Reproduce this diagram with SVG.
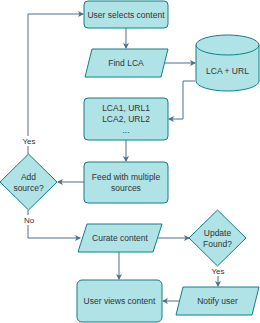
<svg xmlns="http://www.w3.org/2000/svg" width="260" height="323" viewBox="0 0 260 323">
<defs>
<style>
.s{fill:#b0e3e6;stroke:#0e8088;stroke-width:1}
.t{font-family:"Liberation Sans",Arial,sans-serif;font-size:8.5px;fill:#333;text-anchor:middle;dominant-baseline:central}
.l{font-family:"Liberation Sans",Arial,sans-serif;font-size:8px;fill:#333;text-anchor:middle;dominant-baseline:central}
.c{fill:none;stroke:#4f6f88;stroke-width:1}
</style>
<marker id="a" markerWidth="6" markerHeight="6" refX="5" refY="3" orient="auto" markerUnits="userSpaceOnUse">
<path d="M0,0 L6,3 L0,6 L1.5,3 Z" fill="#4f6f88"/>
</marker>
</defs>
<rect width="260" height="323" fill="#fff"/>
<g id="connectors">
<path class="c" d="M126,28 V48" marker-end="url(#a)"/>
<path class="c" d="M165,63 H195" marker-end="url(#a)"/>
<path class="c" d="M195,81 H183 V119 H169" marker-end="url(#a)"/>
<path class="c" d="M126,140 V161" marker-end="url(#a)"/>
<path class="c" d="M84,182 H58" marker-end="url(#a)"/>
<path class="c" d="M28,154 V14 H83" marker-end="url(#a)"/>
<path class="c" d="M28,210 V238 H80" marker-end="url(#a)"/>
<path class="c" d="M158,238 H189" marker-end="url(#a)"/>
<path class="c" d="M218,266 V286" marker-end="url(#a)"/>
<path class="c" d="M180,301 H163" marker-end="url(#a)"/>
<path class="c" d="M119,252 V279" marker-end="url(#a)"/>
<rect x="20" y="136" width="18" height="10" fill="#fff"/>
<text class="l" x="29" y="141">Yes</text>
<rect x="22" y="215" width="14" height="10" fill="#fff"/>
<text class="l" x="29" y="220">No</text>
<rect x="209" y="266" width="18" height="10" fill="#fff"/>
<text class="l" x="218" y="271">Yes</text>
</g>
<g id="user-selects">
<rect class="s" x="84" y="1" width="84" height="27" rx="4"/>
<text class="t" x="126" y="14.5">User selects content</text>
</g>
<g id="find-lca">
<path class="s" d="M92,49 H168 L161,77 H85 Z"/>
<text class="t" x="126" y="63">Find LCA</text>
</g>
<g id="lca-url">
<path class="s" d="M196,45 A31.5,10 0 0 1 259,45 V81 A31.5,10 0 0 1 196,81 Z"/>
<path class="s" d="M196,45 A31.5,10 0 0 0 259,45" fill="none"/>
<text class="t" x="227.5" y="71">LCA + URL</text>
</g>
<g id="lca-list">
<rect class="s" x="84" y="98" width="84" height="42" rx="4"/>
<text class="t" x="126" y="107.5">LCA1, URL1</text>
<text class="t" x="126" y="118.5">LCA2, URL2</text>
<text class="t" x="126" y="129.5">...</text>
</g>
<g id="feed">
<rect class="s" x="84" y="162" width="84" height="41" rx="4"/>
<text class="t" x="126" y="177">Feed with multiple</text>
<text class="t" x="126" y="188">sources</text>
</g>
<g id="add-source">
<path class="s" d="M28.5,154 L57,182 L28.5,210 L0,182 Z"/>
<text class="t" x="28.5" y="177">Add</text>
<text class="t" x="28.5" y="188">source?</text>
</g>
<g id="curate">
<path class="s" d="M87,224 H162 L153,252 H78 Z"/>
<text class="t" x="120" y="238">Curate content</text>
</g>
<g id="update-found">
<path class="s" d="M217.5,210 L246,238 L217.5,266 L189,238 Z"/>
<text class="t" x="217.5" y="233">Update</text>
<text class="t" x="217.5" y="244">Found?</text>
</g>
<g id="notify">
<path class="s" d="M183,287 H259 L252,315 H176 Z"/>
<text class="t" x="217.5" y="301">Notify user</text>
</g>
<g id="user-views">
<rect class="s" x="77" y="280" width="85" height="42" rx="5"/>
<text class="t" x="119.5" y="301">User views content</text>
</g>
</svg>
